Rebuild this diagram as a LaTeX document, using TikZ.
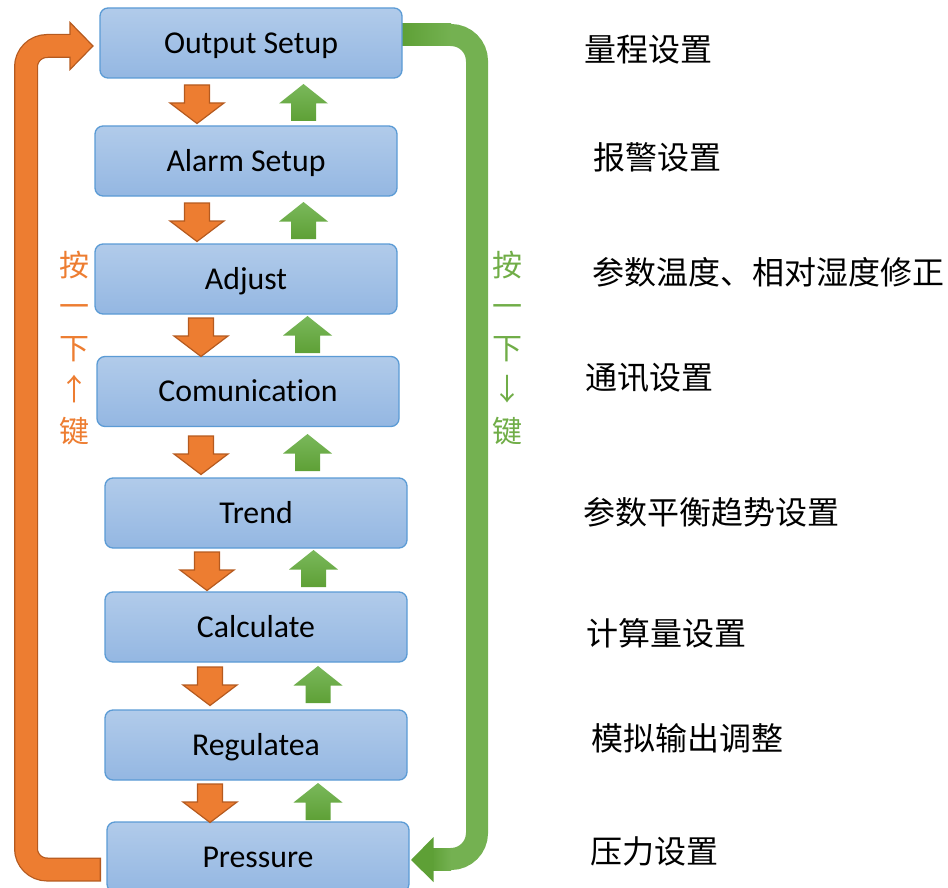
\documentclass[tikz,border=0pt]{standalone}
\usepackage{fontspec}
\setmainfont{Carlito}[Ligatures=NoCommon]
\newfontfamily\cjk{Noto Sans CJK SC}
\definecolor{boxtop}{HTML}{B1CBEA}
\definecolor{boxbot}{HTML}{94B7E2}
\definecolor{boxline}{HTML}{5B9BD5}
\definecolor{orfill}{HTML}{ED7D31}
\definecolor{orline}{HTML}{B55A1F}
\definecolor{grtop}{HTML}{7AB85B}
\definecolor{grbot}{HTML}{5EA036}
\definecolor{grmid}{HTML}{74B151}
\definecolor{grtext}{HTML}{70AD47}
\tikzset{
  box/.style={draw=boxline, line width=1.3pt, rounded corners=8pt,
    top color=boxtop, bottom color=boxbot, minimum width=302pt,
    minimum height=70pt, inner sep=0pt, text height=20.5pt, text depth=0pt,
    font=\fontsize{31.8}{36}\selectfont, text=black},
  rtext/.style={anchor=west, inner sep=0pt, font=\cjk\fontsize{32}{36}\selectfont, text=black},
  vtext/.style={align=center, inner sep=0pt, font=\cjk\fontsize{30}{41.5}\selectfont},
  pics/downarr/.style={code={
    \draw[orline, line width=1.2pt, fill=orfill] (-12.5,0) -- (12.5,0) -- (12.5,18)
      -- (27,18) -- (0,38.5) -- (-27,18) -- (-12.5,18) -- cycle;}},
  pics/uparr/.style={code={
    \path[top color=grtop, bottom color=grbot] (0,0) -- (24.5,19.5) -- (12.5,19.5)
      -- (12.5,37) -- (-12.5,37) -- (-12.5,19.5) -- (-24.5,19.5) -- cycle;}},
}
\begin{document}
\begin{tikzpicture}[x=1pt, y=-1pt]
\useasboundingbox (0,0) rectangle (948,888);

% orange loop
\draw[orline, line width=24pt, rounded corners=21pt] (101,869.5) -- (26,869.5) -- (26,46) -- (71,46);
\draw[orline, fill=orfill, line width=1.2pt] (70,22.5) -- (93,46) -- (70,69.5) -- cycle;
\draw[orfill, line width=21.5pt, rounded corners=21pt] (99.5,869.5) -- (26,869.5) -- (26,46) -- (72,46);

% green loop
\draw[grmid, line width=22pt, rounded corners=26pt] (401,35) -- (477,35) -- (477,859) -- (434,859);
\fill[left color=grbot, right color=grmid] (401,24) rectangle (451,46);
\fill[left color=grbot!90!grmid, right color=grmid] (433,848) rectangle (451,870);
\fill[grbot] (411,860) -- (433.5,837) -- (433.5,882) -- cycle;

% boxes
\node[box] (b1) at (251,43) {Output Setup};
\node[box] (b2) at (246,161) {Alarm Setup};
\node[box] (b3) at (246,279) {Adjust};
\node[box] (b4) at (248,391.5) {Comunication};
\node[box] (b5) at (256,513) {Trend};
\node[box] (b6) at (256,627) {Calculate};
\node[box] (b7) at (256,745) {Regulatea};
\node[box] (b8) at (258,857) {Pressure};

% small arrows
\foreach \x/\y [count=\i] in {197/85, 197/203, 201/318, 201/436, 207/552, 210/667, 210/784}
  \pic (d\i) at (\x,\y) {downarr};
\foreach \x/\y [count=\i] in {303.5/84, 303.5/202, 307.5/316, 307.5/434, 313.5/550, 318/666, 318/783}
  \pic (u\i) at (\x,\y) {uparr};

% vertical labels
\node[vtext, text=orfill] (lup) at (74,348) {按\\一\\下\\↑\\键};
\node[vtext, text=grtext] (ldown) at (507,348) {按\\一\\下\\↓\\键};

% right descriptions
\node[rtext] (t1) at (584,50) {量程设置};
\node[rtext] (t2) at (593,157) {报警设置};
\node[rtext] (t3) at (592,272) {参数温度、相对湿度修正};
\node[rtext] (t4) at (585,378) {通讯设置};
\node[rtext] (t5) at (583,512) {参数平衡趋势设置};
\node[rtext] (t6) at (586,633) {计算量设置};
\node[rtext] (t7) at (591,738) {模拟输出调整};
\node[rtext] (t8) at (590,851) {压力设置};
\end{tikzpicture}
\end{document}
